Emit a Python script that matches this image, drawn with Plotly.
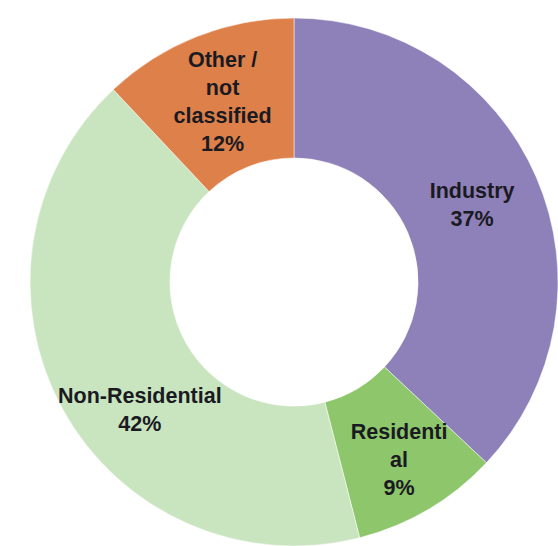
import math
import plotly.graph_objects as go

categories = ["Industry", "Residential", "Non-Residential", "Other / not classified"]
text_labels = ["Industry<br>37%", "Residenti<br>al<br>9%", "Non-Residential<br>42%", "Other /<br>not<br>classified<br>12%"]
values = [37, 9, 42, 12]
colors = ["#8E80B8", "#8DC66B", "#C9E5BF", "#DE8049"]

W, H = 558, 546
dom_x = [0.0538, 1.0]
dom_y = [0.0, 0.967]
hole = 0.47
font = dict(family="Liberation Sans, Arial, sans-serif", size=21.5, color="#1A1A22", weight="bold")

# Plotly's horizontal inside-text placement pushes the large Non-Residential label
# to 9 o'clock; place that one label as an annotation in its slice instead.
pie_text = [t if c != "Non-Residential" else "" for t, c in zip(text_labels, categories)]

fig = go.Figure(go.Pie(
    labels=categories,
    values=values,
    text=pie_text,
    textinfo="text",
    textposition="inside",
    insidetextorientation="horizontal",
    hole=hole,
    sort=False,
    direction="clockwise",
    rotation=0,
    marker=dict(colors=colors, line=dict(color="#FFFFFF", width=0.5)),
    textfont=font,
    domain=dict(x=dom_x, y=dom_y),
    showlegend=False,
))

# geometry of the pie derived from its domain
cx = W * (dom_x[0] + dom_x[1]) / 2
cy = H * (1 - (dom_y[0] + dom_y[1]) / 2)
R = min(W * (dom_x[1] - dom_x[0]), H * (dom_y[1] - dom_y[0])) / 2
r_label = R * (1 + hole) / 2 + 6

total = sum(values)
cum = 0
annotations = []
for c, v, t in zip(categories, values, text_labels):
    mid = (cum + v / 2) / total * 360
    cum += v
    if c != "Non-Residential":
        continue
    ang = math.radians(mid - 11)
    px = cx + r_label * math.sin(ang)
    py = cy - r_label * math.cos(ang)
    annotations.append(dict(
        x=px / W, y=1 - py / H, xref="paper", yref="paper",
        text=t, showarrow=False, align="center",
        xanchor="center", yanchor="middle", font=font,
    ))

fig.update_layout(
    width=W,
    height=H,
    margin=dict(l=0, r=0, t=0, b=0),
    paper_bgcolor="#FFFFFF",
    plot_bgcolor="#FFFFFF",
    uniformtext=dict(minsize=21.5, mode="show"),
    font=dict(family="Liberation Sans, Arial, sans-serif"),
    annotations=annotations,
)

fig.write_html("out.html")
